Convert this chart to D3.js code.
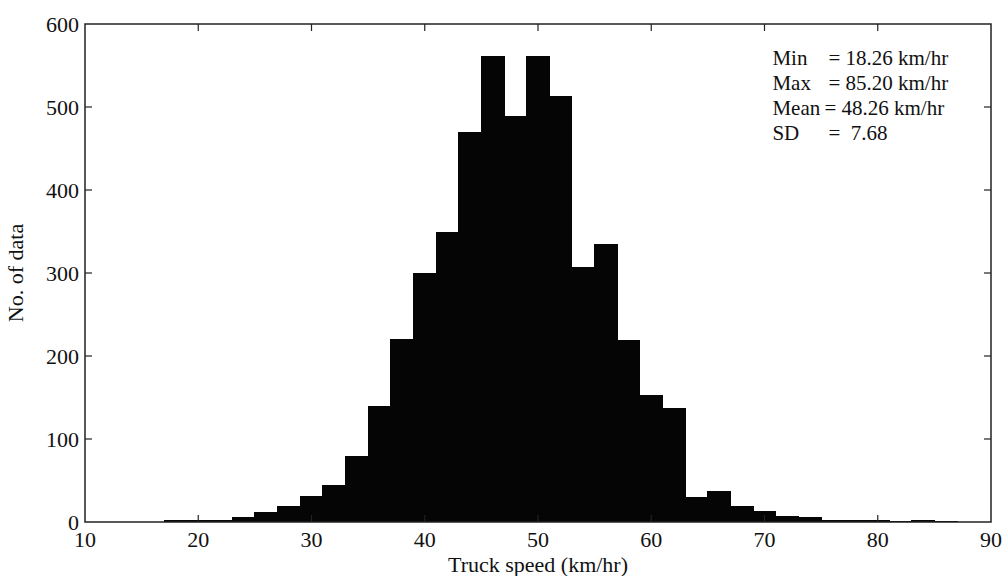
<!DOCTYPE html>
<meta charset="utf-8">
<title>Truck speed histogram</title>
<style>

body {
  margin: 0;
  background: #fff;
}

text {
  font-family: "Liberation Serif", "Times New Roman", serif;
  fill: #111;
}

.tick-label {
  font-size: 22px;
}

.axis-title {
  font-size: 22px;
}

.stats {
  font-size: 21px;
}

.frame {
  fill: none;
  stroke: #222;
  stroke-width: 1.5px;
}

.tick {
  stroke: #222;
  stroke-width: 1.2px;
}

.bar {
  fill: #050505;
  shape-rendering: crispEdges;
}

</style>
<svg id="chart" width="1008" height="576"></svg>
<script src="https://cdn.jsdelivr.net/npm/d3@7"></script>
<script>

// histogram bins (km/hr), each 2 km/hr wide
var binStart = [17, 19, 21, 23, 25, 27, 29, 31, 33, 35, 37, 39, 41, 43, 45, 47, 49, 51,
                53, 55, 57, 59, 61, 63, 65, 67, 69, 71, 73, 75, 77, 79, 81, 83, 85];
var binEnd   = [19, 21, 23, 25, 27, 29, 31, 33, 35, 37, 39, 41, 43, 45, 47, 49, 51, 53,
                55, 57, 59, 61, 63, 65, 67, 69, 71, 73, 75, 77, 79, 81, 83, 85, 87];
var counts   = [2, 2, 3, 6, 12, 19, 31, 45, 80, 140, 220, 300, 350, 470, 562, 489, 562, 513,
                307, 335, 219, 153, 137, 30, 37, 19, 13, 7, 6, 3, 2, 2, 1, 2, 1];

var xTicks = [10, 20, 30, 40, 50, 60, 70, 80, 90];
var yTicks = [0, 100, 200, 300, 400, 500, 600];

var statLabels = ["Min", "Max", "Mean", "SD"];
var statValues = ["= 18.26 km/hr", "= 85.20 km/hr", "= 48.26 km/hr", "=  7.68"];

var svg = d3.select("#chart"),
    margin = {top: 24, right: 17, bottom: 54, left: 85},
    width = +svg.attr("width") - margin.left - margin.right,
    height = +svg.attr("height") - margin.top - margin.bottom,
    tickLen = 7;

var g = svg.append("g")
    .attr("transform", "translate(" + margin.left + "," + margin.top + ")");

var x = d3.scaleLinear().domain([10, 90]).range([0, width]);
var y = d3.scaleLinear().domain([0, 600]).range([height, 0]);

var bins = binStart.map(function(s, i) { return {x0: s, x1: binEnd[i], n: counts[i]}; });

g.selectAll(".bar")
  .data(bins)
  .enter().append("rect")
    .attr("class", "bar")
    .attr("x", function(d) { return Math.floor(x(d.x0)); })
    .attr("width", function(d) { return Math.ceil(x(d.x1)) - Math.floor(x(d.x0)); })
    .attr("y", function(d) { return y(d.n); })
    .attr("height", function(d) { return height - y(d.n); });

// box with inward ticks on every side
g.append("rect")
    .attr("class", "frame")
    .attr("width", width)
    .attr("height", height);

g.selectAll(".xt-bottom")
  .data(xTicks.slice(1, -1))
  .enter().append("line")
    .attr("class", "tick")
    .attr("x1", x).attr("x2", x)
    .attr("y1", height).attr("y2", height - tickLen);

g.selectAll(".xt-top")
  .data(xTicks.slice(1, -1))
  .enter().append("line")
    .attr("class", "tick")
    .attr("x1", x).attr("x2", x)
    .attr("y1", 0).attr("y2", tickLen);

g.selectAll(".yt-left")
  .data(yTicks.slice(1, -1))
  .enter().append("line")
    .attr("class", "tick")
    .attr("x1", 0).attr("x2", tickLen)
    .attr("y1", y).attr("y2", y);

g.selectAll(".yt-right")
  .data(yTicks.slice(1, -1))
  .enter().append("line")
    .attr("class", "tick")
    .attr("x1", width).attr("x2", width - tickLen)
    .attr("y1", y).attr("y2", y);

g.selectAll(".xlab")
  .data(xTicks)
  .enter().append("text")
    .attr("class", "tick-label")
    .attr("x", x)
    .attr("y", height + 25)
    .attr("text-anchor", "middle")
    .text(function(d) { return d; });

g.selectAll(".ylab")
  .data(yTicks)
  .enter().append("text")
    .attr("class", "tick-label")
    .attr("x", -6)
    .attr("y", function(d) { return y(d) + 8; })
    .attr("text-anchor", "end")
    .text(function(d) { return d; });

g.append("text")
    .attr("class", "axis-title")
    .attr("x", width / 2)
    .attr("y", height + 50)
    .attr("text-anchor", "middle")
    .text("Truck speed (km/hr)");

g.append("text")
    .attr("class", "axis-title")
    .attr("transform", "translate(" + (-62) + "," + (height / 2) + ") rotate(-90)")
    .attr("text-anchor", "middle")
    .text("No. of data");

// summary statistics block
var stats = g.append("g")
    .attr("transform", "translate(" + (x(70.7)) + ",41)");

stats.selectAll(".stat-label")
  .data(statLabels)
  .enter().append("text")
    .attr("class", "stats")
    .attr("y", function(d, i) { return i * 25; })
    .text(function(d) { return d; });

stats.selectAll(".stat-value")
  .data(statValues)
  .enter().append("text")
    .attr("class", "stats")
    .attr("x", function(d, i) { return i === 2 ? 52 : 56; })
    .attr("y", function(d, i) { return i * 25; })
    .style("white-space", "pre")
    .text(function(d) { return d; });

</script>
